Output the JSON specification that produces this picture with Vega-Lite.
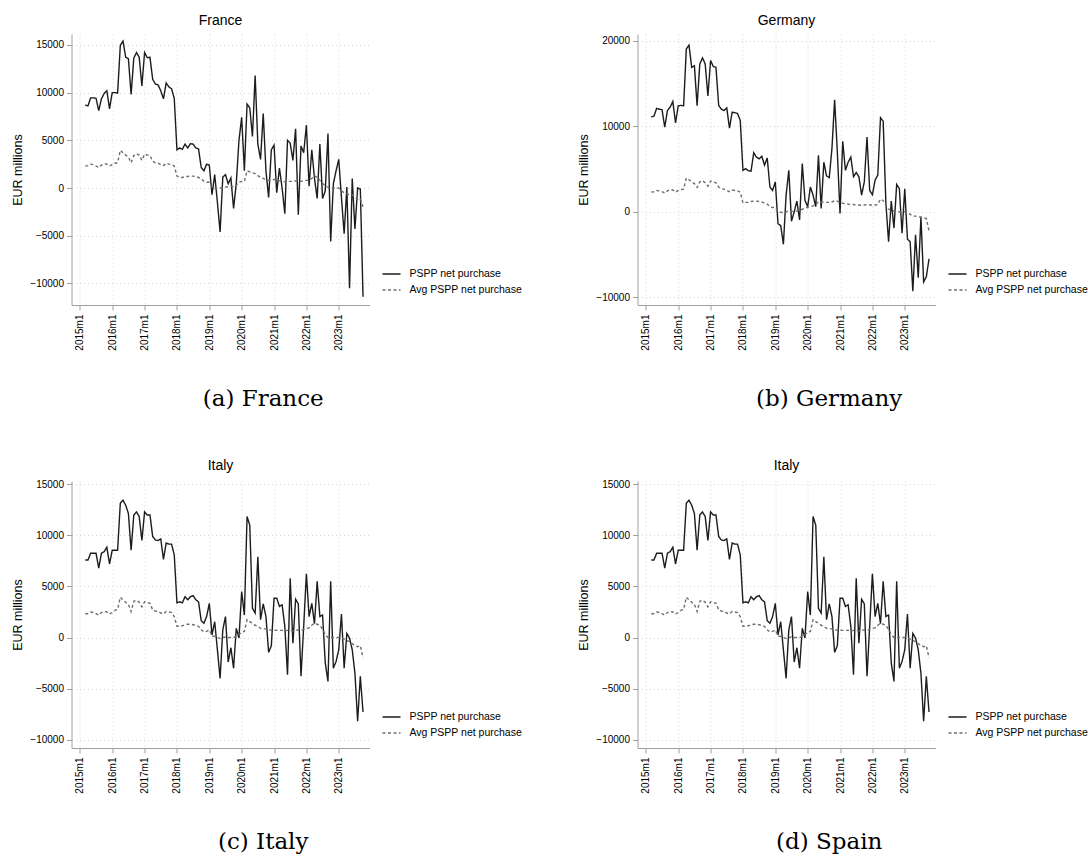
{
"$schema":"https://vega.github.io/schema/vega-lite/v6.json",
"padding":{"left":11.5,"top":14,"right":0,"bottom":0},
"background":"white",
"datasets":{"d":[
{"c":"France","m":2,"pspp":8700,"avg":2300},{"c":"France","m":3,"pspp":8600,"avg":2350},{"c":"France","m":4,"pspp":9450,"avg":2500},{"c":"France","m":5,"pspp":9450,"avg":2450},{"c":"France","m":6,"pspp":9400,"avg":2300},{"c":"France","m":7,"pspp":8100,"avg":2150},{"c":"France","m":8,"pspp":9350,"avg":2400},{"c":"France","m":9,"pspp":9900,"avg":2550},{"c":"France","m":10,"pspp":10200,"avg":2500},{"c":"France","m":11,"pspp":8300,"avg":2300},{"c":"France","m":12,"pspp":10000,"avg":2450},{"c":"France","m":13,"pspp":10000,"avg":2600},{"c":"France","m":14,"pspp":9950,"avg":2650},{"c":"France","m":15,"pspp":14950,"avg":3950},{"c":"France","m":16,"pspp":15400,"avg":3700},{"c":"France","m":17,"pspp":13700,"avg":3450},{"c":"France","m":18,"pspp":13550,"avg":3250},{"c":"France","m":19,"pspp":9800,"avg":2650},{"c":"France","m":20,"pspp":13600,"avg":3400},{"c":"France","m":21,"pspp":14200,"avg":3600},{"c":"France","m":22,"pspp":13700,"avg":3450},{"c":"France","m":23,"pspp":10700,"avg":2900},{"c":"France","m":24,"pspp":14200,"avg":3550},{"c":"France","m":25,"pspp":13650,"avg":3450},{"c":"France","m":26,"pspp":13700,"avg":3400},{"c":"France","m":27,"pspp":11400,"avg":2800},{"c":"France","m":28,"pspp":10900,"avg":2650},{"c":"France","m":29,"pspp":10800,"avg":2600},{"c":"France","m":30,"pspp":10200,"avg":2450},{"c":"France","m":31,"pspp":9350,"avg":2350},{"c":"France","m":32,"pspp":11000,"avg":2600},{"c":"France","m":33,"pspp":10600,"avg":2500},{"c":"France","m":34,"pspp":10400,"avg":2450},{"c":"France","m":35,"pspp":9400,"avg":2300},{"c":"France","m":36,"pspp":4000,"avg":1250},{"c":"France","m":37,"pspp":4200,"avg":1100},{"c":"France","m":38,"pspp":4050,"avg":1100},{"c":"France","m":39,"pspp":4600,"avg":1200},{"c":"France","m":40,"pspp":4200,"avg":1200},{"c":"France","m":41,"pspp":4650,"avg":1250},{"c":"France","m":42,"pspp":4600,"avg":1250},{"c":"France","m":43,"pspp":4200,"avg":1200},{"c":"France","m":44,"pspp":4100,"avg":1100},{"c":"France","m":45,"pspp":2150,"avg":1000},{"c":"France","m":46,"pspp":1800,"avg":700},{"c":"France","m":47,"pspp":2500,"avg":600},{"c":"France","m":48,"pspp":2400,"avg":600},{"c":"France","m":49,"pspp":-700,"avg":100},{"c":"France","m":50,"pspp":1400,"avg":0},{"c":"France","m":51,"pspp":-1500,"avg":-100},{"c":"France","m":52,"pspp":-4600,"avg":0},{"c":"France","m":53,"pspp":1150,"avg":50},{"c":"France","m":54,"pspp":1400,"avg":100},{"c":"France","m":55,"pspp":450,"avg":100},{"c":"France","m":56,"pspp":1050,"avg":200},{"c":"France","m":57,"pspp":-2150,"avg":100},{"c":"France","m":58,"pspp":500,"avg":300},{"c":"France","m":59,"pspp":5000,"avg":600},{"c":"France","m":60,"pspp":7400,"avg":700},{"c":"France","m":61,"pspp":1800,"avg":700},{"c":"France","m":62,"pspp":8800,"avg":1800},{"c":"France","m":63,"pspp":8400,"avg":1700},{"c":"France","m":64,"pspp":5400,"avg":1600},{"c":"France","m":65,"pspp":11800,"avg":1500},{"c":"France","m":66,"pspp":4600,"avg":1300},{"c":"France","m":67,"pspp":3000,"avg":1100},{"c":"France","m":68,"pspp":7800,"avg":1000},{"c":"France","m":69,"pspp":1800,"avg":900},{"c":"France","m":70,"pspp":-1000,"avg":800},{"c":"France","m":71,"pspp":4000,"avg":800},{"c":"France","m":72,"pspp":4500,"avg":900},{"c":"France","m":73,"pspp":-500,"avg":800},{"c":"France","m":74,"pspp":2100,"avg":750},{"c":"France","m":75,"pspp":0,"avg":700},{"c":"France","m":76,"pspp":-2700,"avg":650},{"c":"France","m":77,"pspp":5000,"avg":700},{"c":"France","m":78,"pspp":4700,"avg":700},{"c":"France","m":79,"pspp":2900,"avg":700},{"c":"France","m":80,"pspp":6200,"avg":750},{"c":"France","m":81,"pspp":-2800,"avg":700},{"c":"France","m":82,"pspp":4400,"avg":700},{"c":"France","m":83,"pspp":3700,"avg":750},{"c":"France","m":84,"pspp":6600,"avg":800},{"c":"France","m":85,"pspp":200,"avg":800},{"c":"France","m":86,"pspp":4000,"avg":1000},{"c":"France","m":87,"pspp":1000,"avg":1300},{"c":"France","m":88,"pspp":-1100,"avg":1100},{"c":"France","m":89,"pspp":4600,"avg":800},{"c":"France","m":90,"pspp":-1100,"avg":500},{"c":"France","m":91,"pspp":-300,"avg":200},{"c":"France","m":92,"pspp":5700,"avg":100},{"c":"France","m":93,"pspp":-5600,"avg":0},{"c":"France","m":94,"pspp":450,"avg":0},{"c":"France","m":95,"pspp":1800,"avg":0},{"c":"France","m":96,"pspp":3000,"avg":0},{"c":"France","m":97,"pspp":-1000,"avg":-300},{"c":"France","m":98,"pspp":-4800,"avg":-500},{"c":"France","m":99,"pspp":100,"avg":-600},{"c":"France","m":100,"pspp":-10500,"avg":-700},{"c":"France","m":101,"pspp":1000,"avg":-700},{"c":"France","m":102,"pspp":-4300,"avg":-1000},{"c":"France","m":103,"pspp":0,"avg":-1200},{"c":"France","m":104,"pspp":-100,"avg":-1100},{"c":"France","m":105,"pspp":-11400,"avg":-2000},
{"c":"Germany","m":2,"pspp":11100,"avg":2300},{"c":"Germany","m":3,"pspp":11200,"avg":2350},{"c":"Germany","m":4,"pspp":12100,"avg":2500},{"c":"Germany","m":5,"pspp":12000,"avg":2450},{"c":"Germany","m":6,"pspp":11950,"avg":2350},{"c":"Germany","m":7,"pspp":9900,"avg":2200},{"c":"Germany","m":8,"pspp":11850,"avg":2450},{"c":"Germany","m":9,"pspp":12250,"avg":2600},{"c":"Germany","m":10,"pspp":12900,"avg":2550},{"c":"Germany","m":11,"pspp":10400,"avg":2300},{"c":"Germany","m":12,"pspp":12400,"avg":2500},{"c":"Germany","m":13,"pspp":12450,"avg":2600},{"c":"Germany","m":14,"pspp":12400,"avg":2650},{"c":"Germany","m":15,"pspp":19050,"avg":3950},{"c":"Germany","m":16,"pspp":19500,"avg":3750},{"c":"Germany","m":17,"pspp":16900,"avg":3500},{"c":"Germany","m":18,"pspp":17100,"avg":3300},{"c":"Germany","m":19,"pspp":12400,"avg":2850},{"c":"Germany","m":20,"pspp":17300,"avg":3500},{"c":"Germany","m":21,"pspp":18000,"avg":3650},{"c":"Germany","m":22,"pspp":17300,"avg":3400},{"c":"Germany","m":23,"pspp":13550,"avg":3000},{"c":"Germany","m":24,"pspp":17700,"avg":3600},{"c":"Germany","m":25,"pspp":17000,"avg":3500},{"c":"Germany","m":26,"pspp":16900,"avg":3400},{"c":"Germany","m":27,"pspp":12450,"avg":2900},{"c":"Germany","m":28,"pspp":12000,"avg":2700},{"c":"Germany","m":29,"pspp":11850,"avg":2650},{"c":"Germany","m":30,"pspp":12150,"avg":2500},{"c":"Germany","m":31,"pspp":9800,"avg":2350},{"c":"Germany","m":32,"pspp":11650,"avg":2550},{"c":"Germany","m":33,"pspp":11600,"avg":2500},{"c":"Germany","m":34,"pspp":11500,"avg":2450},{"c":"Germany","m":35,"pspp":10700,"avg":2300},{"c":"Germany","m":36,"pspp":4850,"avg":1050},{"c":"Germany","m":37,"pspp":5050,"avg":1100},{"c":"Germany","m":38,"pspp":4800,"avg":1100},{"c":"Germany","m":39,"pspp":4750,"avg":1200},{"c":"Germany","m":40,"pspp":6900,"avg":1250},{"c":"Germany","m":41,"pspp":6400,"avg":1250},{"c":"Germany","m":42,"pspp":6200,"avg":1200},{"c":"Germany","m":43,"pspp":6500,"avg":1150},{"c":"Germany","m":44,"pspp":5450,"avg":1000},{"c":"Germany","m":45,"pspp":6300,"avg":900},{"c":"Germany","m":46,"pspp":2900,"avg":600},{"c":"Germany","m":47,"pspp":2500,"avg":500},{"c":"Germany","m":48,"pspp":3500,"avg":500},{"c":"Germany","m":49,"pspp":-1400,"avg":0},{"c":"Germany","m":50,"pspp":-1600,"avg":-50},{"c":"Germany","m":51,"pspp":-3800,"avg":-100},{"c":"Germany","m":52,"pspp":1950,"avg":0},{"c":"Germany","m":53,"pspp":4850,"avg":100},{"c":"Germany","m":54,"pspp":-1100,"avg":50},{"c":"Germany","m":55,"pspp":0,"avg":50},{"c":"Germany","m":56,"pspp":1250,"avg":100},{"c":"Germany","m":57,"pspp":-950,"avg":150},{"c":"Germany","m":58,"pspp":5650,"avg":300},{"c":"Germany","m":59,"pspp":1350,"avg":450},{"c":"Germany","m":60,"pspp":600,"avg":550},{"c":"Germany","m":61,"pspp":2900,"avg":600},{"c":"Germany","m":62,"pspp":1950,"avg":700},{"c":"Germany","m":63,"pspp":600,"avg":800},{"c":"Germany","m":64,"pspp":6600,"avg":1200},{"c":"Germany","m":65,"pspp":400,"avg":1150},{"c":"Germany","m":66,"pspp":5800,"avg":1150},{"c":"Germany","m":67,"pspp":4200,"avg":1100},{"c":"Germany","m":68,"pspp":4000,"avg":1100},{"c":"Germany","m":69,"pspp":7400,"avg":1150},{"c":"Germany","m":70,"pspp":13100,"avg":1300},{"c":"Germany","m":71,"pspp":7000,"avg":1250},{"c":"Germany","m":72,"pspp":-200,"avg":1100},{"c":"Germany","m":73,"pspp":8250,"avg":1000},{"c":"Germany","m":74,"pspp":4850,"avg":950},{"c":"Germany","m":75,"pspp":5800,"avg":900},{"c":"Germany","m":76,"pspp":6400,"avg":850},{"c":"Germany","m":77,"pspp":4100,"avg":850},{"c":"Germany","m":78,"pspp":4600,"avg":800},{"c":"Germany","m":79,"pspp":4100,"avg":800},{"c":"Germany","m":80,"pspp":1950,"avg":750},{"c":"Germany","m":81,"pspp":3500,"avg":800},{"c":"Germany","m":82,"pspp":8750,"avg":850},{"c":"Germany","m":83,"pspp":2500,"avg":800},{"c":"Germany","m":84,"pspp":2000,"avg":800},{"c":"Germany","m":85,"pspp":3700,"avg":800},{"c":"Germany","m":86,"pspp":4300,"avg":850},{"c":"Germany","m":87,"pspp":11000,"avg":1500},{"c":"Germany","m":88,"pspp":10600,"avg":1300},{"c":"Germany","m":89,"pspp":1000,"avg":800},{"c":"Germany","m":90,"pspp":-3500,"avg":300},{"c":"Germany","m":91,"pspp":1250,"avg":200},{"c":"Germany","m":92,"pspp":-1900,"avg":100},{"c":"Germany","m":93,"pspp":3200,"avg":0},{"c":"Germany","m":94,"pspp":2700,"avg":0},{"c":"Germany","m":95,"pspp":-2500,"avg":0},{"c":"Germany","m":96,"pspp":2700,"avg":0},{"c":"Germany","m":97,"pspp":-3200,"avg":-100},{"c":"Germany","m":98,"pspp":-3500,"avg":-300},{"c":"Germany","m":99,"pspp":-9300,"avg":-500},{"c":"Germany","m":100,"pspp":-2700,"avg":-500},{"c":"Germany","m":101,"pspp":-7700,"avg":-600},{"c":"Germany","m":102,"pspp":-600,"avg":-600},{"c":"Germany","m":103,"pspp":-8200,"avg":-700},{"c":"Germany","m":104,"pspp":-7600,"avg":-800},{"c":"Germany","m":105,"pspp":-5500,"avg":-2200},
{"c":"Italy","m":2,"pspp":7600,"avg":2300},{"c":"Italy","m":3,"pspp":7600,"avg":2350},{"c":"Italy","m":4,"pspp":8250,"avg":2500},{"c":"Italy","m":5,"pspp":8250,"avg":2450},{"c":"Italy","m":6,"pspp":8250,"avg":2350},{"c":"Italy","m":7,"pspp":6800,"avg":2200},{"c":"Italy","m":8,"pspp":8250,"avg":2450},{"c":"Italy","m":9,"pspp":8400,"avg":2550},{"c":"Italy","m":10,"pspp":8850,"avg":2500},{"c":"Italy","m":11,"pspp":7200,"avg":2300},{"c":"Italy","m":12,"pspp":8550,"avg":2450},{"c":"Italy","m":13,"pspp":8550,"avg":2650},{"c":"Italy","m":14,"pspp":8550,"avg":2750},{"c":"Italy","m":15,"pspp":13150,"avg":3950},{"c":"Italy","m":16,"pspp":13450,"avg":3700},{"c":"Italy","m":17,"pspp":12950,"avg":3450},{"c":"Italy","m":18,"pspp":12150,"avg":3250},{"c":"Italy","m":19,"pspp":8550,"avg":2550},{"c":"Italy","m":20,"pspp":12000,"avg":3550},{"c":"Italy","m":21,"pspp":12300,"avg":3650},{"c":"Italy","m":22,"pspp":11850,"avg":3450},{"c":"Italy","m":23,"pspp":9500,"avg":3000},{"c":"Italy","m":24,"pspp":12300,"avg":3500},{"c":"Italy","m":25,"pspp":12000,"avg":3450},{"c":"Italy","m":26,"pspp":12000,"avg":3350},{"c":"Italy","m":27,"pspp":9900,"avg":2700},{"c":"Italy","m":28,"pspp":9550,"avg":2600},{"c":"Italy","m":29,"pspp":9500,"avg":2550},{"c":"Italy","m":30,"pspp":9650,"avg":2400},{"c":"Italy","m":31,"pspp":7650,"avg":2300},{"c":"Italy","m":32,"pspp":9250,"avg":2550},{"c":"Italy","m":33,"pspp":9150,"avg":2500},{"c":"Italy","m":34,"pspp":9150,"avg":2450},{"c":"Italy","m":35,"pspp":8100,"avg":2050},{"c":"Italy","m":36,"pspp":3400,"avg":1100},{"c":"Italy","m":37,"pspp":3500,"avg":1100},{"c":"Italy","m":38,"pspp":3400,"avg":1150},{"c":"Italy","m":39,"pspp":4000,"avg":1250},{"c":"Italy","m":40,"pspp":3700,"avg":1300},{"c":"Italy","m":41,"pspp":4000,"avg":1300},{"c":"Italy","m":42,"pspp":4100,"avg":1250},{"c":"Italy","m":43,"pspp":3700,"avg":1200},{"c":"Italy","m":44,"pspp":3500,"avg":1100},{"c":"Italy","m":45,"pspp":1650,"avg":750},{"c":"Italy","m":46,"pspp":1400,"avg":550},{"c":"Italy","m":47,"pspp":2050,"avg":600},{"c":"Italy","m":48,"pspp":3350,"avg":750},{"c":"Italy","m":49,"pspp":250,"avg":150},{"c":"Italy","m":50,"pspp":1550,"avg":100},{"c":"Italy","m":51,"pspp":-1200,"avg":0},{"c":"Italy","m":52,"pspp":-4000,"avg":-100},{"c":"Italy","m":53,"pspp":750,"avg":0},{"c":"Italy","m":54,"pspp":2050,"avg":50},{"c":"Italy","m":55,"pspp":-2400,"avg":0},{"c":"Italy","m":56,"pspp":-1000,"avg":0},{"c":"Italy","m":57,"pspp":-3000,"avg":0},{"c":"Italy","m":58,"pspp":900,"avg":100},{"c":"Italy","m":59,"pspp":-50,"avg":300},{"c":"Italy","m":60,"pspp":4500,"avg":500},{"c":"Italy","m":61,"pspp":2200,"avg":600},{"c":"Italy","m":62,"pspp":11850,"avg":1750},{"c":"Italy","m":63,"pspp":11000,"avg":1550},{"c":"Italy","m":64,"pspp":2850,"avg":1400},{"c":"Italy","m":65,"pspp":2400,"avg":1200},{"c":"Italy","m":66,"pspp":7900,"avg":1100},{"c":"Italy","m":67,"pspp":1750,"avg":900},{"c":"Italy","m":68,"pspp":3300,"avg":850},{"c":"Italy","m":69,"pspp":2050,"avg":850},{"c":"Italy","m":70,"pspp":-1450,"avg":800},{"c":"Italy","m":71,"pspp":-800,"avg":700},{"c":"Italy","m":72,"pspp":3850,"avg":750},{"c":"Italy","m":73,"pspp":3850,"avg":700},{"c":"Italy","m":74,"pspp":3050,"avg":700},{"c":"Italy","m":75,"pspp":3200,"avg":700},{"c":"Italy","m":76,"pspp":1100,"avg":650},{"c":"Italy","m":77,"pspp":-3650,"avg":700},{"c":"Italy","m":78,"pspp":5800,"avg":700},{"c":"Italy","m":79,"pspp":-550,"avg":650},{"c":"Italy","m":80,"pspp":3750,"avg":700},{"c":"Italy","m":81,"pspp":3300,"avg":750},{"c":"Italy","m":82,"pspp":-3800,"avg":700},{"c":"Italy","m":83,"pspp":1100,"avg":800},{"c":"Italy","m":84,"pspp":6250,"avg":900},{"c":"Italy","m":85,"pspp":2050,"avg":950},{"c":"Italy","m":86,"pspp":3350,"avg":1200},{"c":"Italy","m":87,"pspp":1350,"avg":1400},{"c":"Italy","m":88,"pspp":5500,"avg":1300},{"c":"Italy","m":89,"pspp":2050,"avg":1200},{"c":"Italy","m":90,"pspp":2200,"avg":800},{"c":"Italy","m":91,"pspp":-2500,"avg":300},{"c":"Italy","m":92,"pspp":-4300,"avg":0},{"c":"Italy","m":93,"pspp":5500,"avg":0},{"c":"Italy","m":94,"pspp":-3000,"avg":0},{"c":"Italy","m":95,"pspp":-2350,"avg":0},{"c":"Italy","m":96,"pspp":-1200,"avg":0},{"c":"Italy","m":97,"pspp":2300,"avg":-50},{"c":"Italy","m":98,"pspp":-3000,"avg":-150},{"c":"Italy","m":99,"pspp":400,"avg":-300},{"c":"Italy","m":100,"pspp":-50,"avg":-400},{"c":"Italy","m":101,"pspp":-1200,"avg":-600},{"c":"Italy","m":102,"pspp":-3500,"avg":-800},{"c":"Italy","m":103,"pspp":-8200,"avg":-900},{"c":"Italy","m":104,"pspp":-3800,"avg":-800},{"c":"Italy","m":105,"pspp":-7300,"avg":-2000}
]},
"resolve":{"legend":{"color":"independent","strokeDash":"independent"},"scale":{"color":"independent","strokeDash":"independent"}},
"vconcat":[
{"resolve":{"legend":{"color":"independent","strokeDash":"independent"},"scale":{"color":"independent","strokeDash":"independent"}},
"hconcat":[
{"title":{"text":"(a) France","orient":"bottom","font":"DejaVu Serif","fontSize":23,"offset":38,"dx":-4},
"resolve":{"legend":{"color":"independent","strokeDash":"independent"}},
"vconcat":[{
"title":"France","width":298,"height":271,"data":{"name":"d"},
"transform":[{"filter":"datum.c == 'France'"},{"fold":["pspp","avg"],"as":["s","v"]}],
"mark":{"type":"line","strokeWidth":1.4},
"encoding":{
"x":{"field":"m","type":"quantitative","scale":{"domain":[-3.1,107.4],"nice":false,"zero":false},"axis":{"values":[0,12,24,36,48,60,72,84,96],"labelExpr":"(2015 + datum.value/12) + 'm1'","title":null}},
"y":{"field":"v","type":"quantitative","scale":{"domain":[-12260,16140],"nice":false,"zero":false},"axis":{"values":[-10000,-5000,0,5000,10000,15000],"format":"d","title":"EUR millions"}},
"color":{"field":"s","type":"nominal","scale":{"domain":["pspp","avg"],"range":["#1c1c1c","#6e6e6e"]},"legend":{"orient":"none","legendX":310,"legendY":230,"labelExpr":"datum.label == 'pspp' ? 'PSPP net purchase' : 'Avg PSPP net purchase'","title":null}},
"strokeDash":{"field":"s","type":"nominal","scale":{"domain":["pspp","avg"],"range":[[1,0],[3,2.5]]},"legend":{"orient":"none","legendX":310,"legendY":230,"labelExpr":"datum.label == 'pspp' ? 'PSPP net purchase' : 'Avg PSPP net purchase'","title":null}}
}}]},
{"title":{"text":"(b) Germany","orient":"bottom","font":"DejaVu Serif","fontSize":23,"offset":38,"dx":-4},
"resolve":{"legend":{"color":"independent","strokeDash":"independent"}},
"vconcat":[{
"title":"Germany","width":298,"height":271,"data":{"name":"d"},
"transform":[{"filter":"datum.c == 'Germany'"},{"fold":["pspp","avg"],"as":["s","v"]}],
"mark":{"type":"line","strokeWidth":1.4},
"encoding":{
"x":{"field":"m","type":"quantitative","scale":{"domain":[-3.1,107.4],"nice":false,"zero":false},"axis":{"values":[0,12,24,36,48,60,72,84,96],"labelExpr":"(2015 + datum.value/12) + 'm1'","title":null}},
"y":{"field":"v","type":"quantitative","scale":{"domain":[-10900,20800],"nice":false,"zero":false},"axis":{"values":[-10000,0,10000,20000],"format":"d","title":"EUR millions"}},
"color":{"field":"s","type":"nominal","scale":{"domain":["pspp","avg"],"range":["#1c1c1c","#6e6e6e"]},"legend":{"orient":"none","legendX":310,"legendY":230,"labelExpr":"datum.label == 'pspp' ? 'PSPP net purchase' : 'Avg PSPP net purchase'","title":null}},
"strokeDash":{"field":"s","type":"nominal","scale":{"domain":["pspp","avg"],"range":[[1,0],[3,2.5]]},"legend":{"orient":"none","legendX":310,"legendY":230,"labelExpr":"datum.label == 'pspp' ? 'PSPP net purchase' : 'Avg PSPP net purchase'","title":null}}
}}]}
],"spacing":55},
{"resolve":{"legend":{"color":"independent","strokeDash":"independent"},"scale":{"color":"independent","strokeDash":"independent"}},
"hconcat":[
{"title":{"text":"(c) Italy","orient":"bottom","font":"DejaVu Serif","fontSize":23,"offset":38,"dx":-4},
"resolve":{"legend":{"color":"independent","strokeDash":"independent"}},
"vconcat":[{
"title":"Italy","width":298,"height":267,"data":{"name":"d"},
"transform":[{"filter":"datum.c == 'Italy'"},{"fold":["pspp","avg"],"as":["s","v"]}],
"mark":{"type":"line","strokeWidth":1.4},
"encoding":{
"x":{"field":"m","type":"quantitative","scale":{"domain":[-3.1,107.4],"nice":false,"zero":false},"axis":{"values":[0,12,24,36,48,60,72,84,96],"labelExpr":"(2015 + datum.value/12) + 'm1'","title":null}},
"y":{"field":"v","type":"quantitative","scale":{"domain":[-10820,15330],"nice":false,"zero":false},"axis":{"values":[-10000,-5000,0,5000,10000,15000],"format":"d","title":"EUR millions"}},
"color":{"field":"s","type":"nominal","scale":{"domain":["pspp","avg"],"range":["#1c1c1c","#6e6e6e"]},"legend":{"orient":"none","legendX":310,"legendY":226,"labelExpr":"datum.label == 'pspp' ? 'PSPP net purchase' : 'Avg PSPP net purchase'","title":null}},
"strokeDash":{"field":"s","type":"nominal","scale":{"domain":["pspp","avg"],"range":[[1,0],[3,2.5]]},"legend":{"orient":"none","legendX":310,"legendY":226,"labelExpr":"datum.label == 'pspp' ? 'PSPP net purchase' : 'Avg PSPP net purchase'","title":null}}
}}]},
{"title":{"text":"(d) Spain","orient":"bottom","font":"DejaVu Serif","fontSize":23,"offset":38,"dx":-4},
"resolve":{"legend":{"color":"independent","strokeDash":"independent"}},
"vconcat":[{
"title":"Italy","width":298,"height":267,"data":{"name":"d"},
"transform":[{"filter":"datum.c == 'Italy'"},{"fold":["pspp","avg"],"as":["s","v"]}],
"mark":{"type":"line","strokeWidth":1.4},
"encoding":{
"x":{"field":"m","type":"quantitative","scale":{"domain":[-3.1,107.4],"nice":false,"zero":false},"axis":{"values":[0,12,24,36,48,60,72,84,96],"labelExpr":"(2015 + datum.value/12) + 'm1'","title":null}},
"y":{"field":"v","type":"quantitative","scale":{"domain":[-10820,15330],"nice":false,"zero":false},"axis":{"values":[-10000,-5000,0,5000,10000,15000],"format":"d","title":"EUR millions"}},
"color":{"field":"s","type":"nominal","scale":{"domain":["pspp","avg"],"range":["#1c1c1c","#6e6e6e"]},"legend":{"orient":"none","legendX":310,"legendY":226,"labelExpr":"datum.label == 'pspp' ? 'PSPP net purchase' : 'Avg PSPP net purchase'","title":null}},
"strokeDash":{"field":"s","type":"nominal","scale":{"domain":["pspp","avg"],"range":[[1,0],[3,2.5]]},"legend":{"orient":"none","legendX":310,"legendY":226,"labelExpr":"datum.label == 'pspp' ? 'PSPP net purchase' : 'Avg PSPP net purchase'","title":null}}
}}]}
],"spacing":55}
],
"spacing":47,
"config":{
"view":{"stroke":null},
"font":"Liberation Sans",
"axis":{"labelFont":"Liberation Sans","labelFontSize":10,"labelColor":"#000","titleFont":"Liberation Sans","titleFontSize":12.5,"titleFontWeight":"normal","titleColor":"#000","domainColor":"#a0a0a0","tickColor":"#a0a0a0","tickSize":5,"grid":true,"gridColor":"#d4d4d4","gridDash":[1,3],"gridWidth":1},
"axisX":{"labelAngle":270,"labelPadding":4},
"axisY":{"labelPadding":3,"titlePadding":5},
"title":{"font":"Liberation Sans","fontSize":14,"fontWeight":"normal","color":"#000","offset":6,"anchor":"middle"},
"legend":{"symbolType":"stroke","symbolSize":324,"symbolStrokeWidth":1.5,"labelFont":"Liberation Sans","labelFontSize":10.5,"labelColor":"#000","labelOffset":8,"rowPadding":0,"padding":0}
}
}
